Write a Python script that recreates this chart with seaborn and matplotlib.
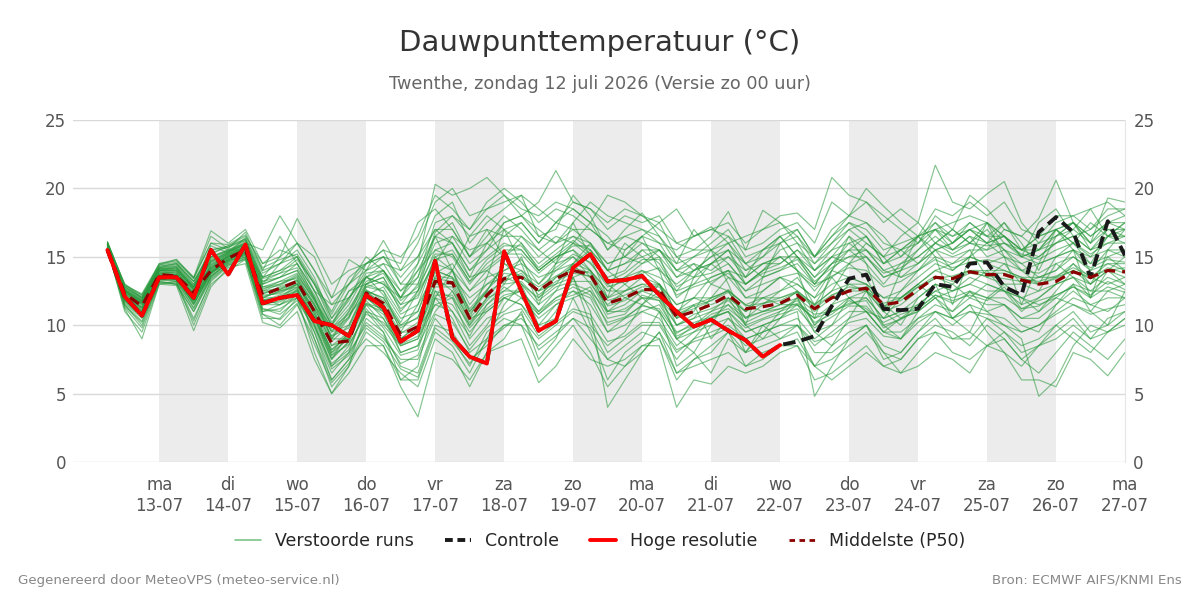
import numpy as np
import pandas as pd
import matplotlib
matplotlib.use("Agg")
import matplotlib.pyplot as plt
from matplotlib.lines import Line2D
import seaborn as sns

# ---------------- data ----------------
title = "Dauwpunttemperatuur (°C)"
subtitle = "Twenthe, zondag 12 juli 2026 (Versie zo 00 uur)"
day_names = ["ma", "di", "wo", "do", "vr", "za", "zo", "ma", "di", "wo", "do", "vr", "za", "zo", "ma"]
day_dates = ["13-07", "14-07", "15-07", "16-07", "17-07", "18-07", "19-07", "20-07",
             "21-07", "22-07", "23-07", "24-07", "25-07", "26-07", "27-07"]
shaded_days = ["13-07", "15-07", "17-07", "19-07", "21-07", "23-07", "25-07"]

# 6-hourly steps starting 12-07 06:00 (hours since 12-07 00:00)
hours = [6 + 6 * k for k in range(60)]

hres = [15.5, 12.1, 10.7, 13.5, 13.5, 12.0, 15.5, 13.7, 15.9, 11.6, 12.0, 12.2, 10.3, 10.0, 9.2,
        12.2, 11.3, 8.8, 9.6, 14.7, 9.1, 7.7, 7.2, 15.4, 12.5, 9.6, 10.3, 14.2, 15.2, 13.2,
        13.3, 13.6, 12.2, 11.0, 9.9, 10.4, 9.6, 8.9, 7.7, 8.55]

controle = [15.5, 12.1, 10.7, 13.5, 13.5, 12.0, 15.5, 13.7, 15.9, 11.6, 12.0, 12.2, 10.3, 10.0, 9.2,
            12.2, 11.3, 8.8, 9.6, 14.7, 9.1, 7.7, 7.2, 15.4, 12.5, 9.6, 10.3, 14.2, 15.2, 13.2,
            13.3, 13.6, 12.2, 11.0, 9.9, 10.4, 9.6, 8.9, 7.7, 8.55, 8.8, 9.2, 11.4, 13.4, 13.7,
            11.2, 11.1, 11.2, 13.0, 12.8, 14.5, 14.6, 12.8, 12.2, 16.8, 17.9, 16.8, 13.5, 17.6, 15.1]

p50 = [15.5, 12.3, 11.4, 13.7, 13.6, 12.4, 14.0, 14.9, 15.5, 12.2, 12.7, 13.2, 11.0, 8.7, 8.85,
       12.35, 11.6, 9.3, 9.9, 13.2, 13.1, 10.5, 12.2, 13.4, 13.5, 12.5, 13.4, 14.0, 13.7, 11.6,
       12.0, 12.6, 12.6, 10.6, 11.0, 11.5, 12.2, 11.2, 11.35, 11.6, 12.2, 11.2, 12.0, 12.5, 12.7,
       11.5, 11.7, 12.6, 13.5, 13.4, 13.9, 13.7, 13.7, 13.3, 13.0, 13.2, 13.9, 13.5, 14.0, 13.9]

m01 = [15.8,12.6,11.5,14.0,13.8,12.6,14.2,15.2,15.8,12.5,13.0,13.5,11.5,8.5,9.5,12.5,12.0,10.0,10.5,14.0,13.5,11.0,12.5,14.5,14.0,13.0,14.5,15.0,14.0,12.0,12.5,13.5,13.0,11.5,12.0,12.0,13.5,12.0,12.0,12.5,13.0,12.0,13.0,13.5,13.0,12.0,12.5,13.5,14.5,14.0,15.0,14.5,14.0,13.5,13.5,14.0,15.0,14.0,14.5,14.5]
m02 = [16.0,12.8,12.0,14.2,14.5,13.0,15.5,15.8,16.5,14.5,15.5,15.0,13.0,11.0,13.5,14.5,15.5,15.0,16.5,19.5,18.5,17.0,19.0,20.0,19.0,17.5,18.5,18.0,17.0,16.0,15.5,16.5,17.5,15.0,14.0,15.0,16.0,14.5,13.5,14.0,15.0,13.0,14.5,16.0,15.0,13.5,14.0,15.5,17.0,15.5,16.0,17.0,15.5,14.0,13.0,15.0,16.0,14.5,16.5,17.0]
m03 = [15.5,11.5,10.0,13.2,13.0,11.0,13.5,14.5,15.0,11.0,11.5,12.0,9.5,6.0,7.5,10.5,9.5,7.0,6.5,10.0,9.5,7.5,8.5,10.0,10.5,9.0,10.0,11.0,10.5,8.0,9.0,10.0,10.0,8.0,9.0,9.5,10.0,9.0,9.5,10.0,10.0,8.5,9.5,10.5,11.0,9.5,9.0,10.5,11.0,10.5,11.5,11.0,10.0,9.5,10.0,11.0,12.0,11.5,11.0,12.0]
m04 = [16.0,13.0,12.0,14.5,14.8,13.5,16.0,15.5,15.5,13.5,14.0,14.5,12.0,9.0,11.0,13.5,13.0,12.0,13.5,17.5,18.0,17.0,18.5,19.5,18.0,19.0,21.3,19.0,18.5,17.5,18.5,18.0,17.0,16.0,15.5,16.5,18.3,15.5,16.0,17.0,17.5,16.0,19.0,18.0,17.5,16.0,15.5,16.5,17.0,17.5,18.0,17.5,16.5,15.0,17.5,18.5,16.5,17.0,18.0,18.5]
m05 = [15.6,11.0,9.5,13.0,13.2,10.0,13.0,14.0,14.8,10.5,10.5,12.0,8.0,5.0,7.0,9.5,8.5,5.5,3.3,8.0,7.5,6.0,8.0,9.0,11.0,7.5,9.0,12.0,9.5,6.0,8.0,9.0,11.0,7.0,8.0,6.5,9.0,8.0,10.0,9.0,9.5,7.0,8.5,9.5,10.0,8.0,7.5,9.0,10.0,9.5,8.5,10.0,9.0,7.5,8.5,9.5,10.5,9.0,9.5,10.5]
m06 = [15.7,12.0,11.0,13.5,13.5,12.0,14.0,15.0,15.5,12.0,12.5,13.0,11.0,8.0,9.0,13.0,12.5,9.5,11.5,15.0,14.0,12.5,14.0,13.0,15.0,12.0,13.0,14.5,15.5,13.0,12.0,11.5,13.0,10.5,11.0,13.0,12.5,10.5,11.5,12.5,13.5,11.5,12.5,14.5,13.5,11.0,12.0,13.0,14.0,14.5,15.5,13.5,14.5,13.0,12.5,14.5,13.5,13.0,15.0,14.0]
m07 = [16.0,12.5,11.8,14.0,14.0,12.8,15.0,15.5,16.0,15.5,18.0,16.0,14.0,12.0,14.8,14.0,16.2,14.0,15.0,18.0,19.0,16.0,17.5,18.5,19.5,16.5,17.0,19.5,18.0,15.5,17.0,18.2,16.5,14.5,17.0,15.5,14.5,13.0,14.0,15.5,16.0,14.0,15.0,14.5,16.0,15.0,13.5,14.5,15.5,16.0,17.0,16.0,17.5,16.0,14.0,16.5,17.5,15.5,17.0,16.5]
m08 = [15.5,11.8,10.8,13.3,13.4,11.5,13.8,14.6,15.2,11.5,11.8,12.5,10.0,7.0,8.5,11.0,10.5,8.5,9.0,11.5,12.0,9.0,10.5,11.0,12.0,10.5,11.5,12.0,12.5,10.0,10.5,11.0,11.5,9.5,10.0,10.5,11.5,10.0,10.5,11.0,11.5,10.5,11.0,11.5,12.0,10.5,11.0,11.5,12.5,12.0,12.5,12.0,13.0,12.0,11.5,12.0,13.0,12.5,12.5,13.0]
m09 = [15.9,12.2,11.0,13.8,13.6,11.8,14.2,15.0,15.6,12.0,12.0,13.0,10.5,7.5,9.5,12.0,11.0,8.0,8.5,12.5,11.0,8.5,10.0,12.0,11.5,9.5,11.0,13.5,11.0,4.0,6.0,8.0,9.5,7.5,9.0,10.5,11.0,8.0,9.5,11.0,12.0,10.0,11.5,13.0,12.5,11.0,10.0,12.0,13.0,12.5,13.5,13.0,12.5,12.0,11.0,12.5,14.0,13.5,13.0,13.5]
m10 = [16.0,12.7,12.0,14.3,14.5,13.2,15.2,15.8,16.3,13.5,15.0,17.8,15.5,13.0,14.0,14.5,15.0,13.5,15.0,17.0,16.0,13.5,16.0,17.0,16.0,14.0,15.0,15.5,14.0,12.5,13.5,14.0,13.0,11.0,12.0,11.5,12.0,11.0,12.0,11.5,12.5,10.0,11.0,12.0,12.5,11.5,10.5,11.5,12.5,13.0,12.0,13.0,12.5,11.0,12.0,13.0,13.5,12.0,14.0,13.0]
m11 = [15.6,12.3,11.6,13.9,13.8,12.3,14.5,15.1,15.7,12.3,12.8,13.3,11.0,8.5,9.0,12.5,11.5,9.0,10.0,13.0,14.0,11.0,12.5,14.5,13.5,12.5,14.0,15.0,13.5,12.0,13.0,14.0,13.5,12.5,14.0,15.0,15.5,14.5,15.5,16.0,17.0,15.0,16.5,18.0,19.0,17.5,18.5,17.5,21.7,19.0,18.5,19.6,20.5,17.5,16.0,17.5,18.0,18.5,19.0,18.0]
m12 = [15.7,12.0,11.2,13.6,13.4,12.0,13.8,14.9,15.4,12.2,12.3,13.0,10.8,7.8,9.2,12.0,11.5,9.0,10.0,13.5,12.5,10.0,12.0,13.5,13.0,12.0,13.5,14.0,13.5,11.0,12.0,12.5,12.0,10.5,11.5,9.0,10.5,9.5,10.0,10.5,11.5,9.5,10.0,12.0,11.0,9.5,10.5,11.0,12.0,11.0,12.5,11.0,11.5,10.5,11.0,12.0,11.5,11.0,12.5,12.0]
m13 = [16.1,12.9,12.2,14.4,14.6,13.4,16.5,15.6,16.8,14.0,14.5,15.5,13.5,10.5,12.5,13.5,14.5,12.5,14.0,16.5,17.5,15.0,17.0,16.5,17.5,16.0,17.5,17.0,16.0,14.5,15.0,16.0,15.0,13.5,14.5,14.0,15.0,14.0,14.5,14.5,15.5,14.5,15.5,16.0,16.5,14.5,15.5,16.0,17.5,16.0,17.5,16.5,17.5,15.5,16.0,16.5,17.0,16.0,17.5,17.5]
m14 = [15.5,11.6,10.5,13.4,13.2,11.3,13.5,14.7,15.1,11.2,11.0,12.3,9.5,6.5,8.0,10.0,9.0,7.5,7.5,10.5,9.0,7.0,9.5,10.5,10.0,8.5,9.5,10.5,9.0,7.5,8.5,9.5,9.0,6.0,7.5,8.5,9.5,7.0,8.0,8.5,9.0,7.0,7.5,8.5,9.5,8.0,6.5,8.0,9.5,9.0,9.5,8.5,9.0,7.5,6.5,8.0,9.5,8.5,7.5,9.0]
m15 = [15.8,12.4,11.7,14.1,14.1,12.7,14.8,15.3,16.0,13.0,13.5,14.0,12.0,9.0,10.5,13.0,13.5,11.0,12.5,15.5,15.0,13.0,14.5,15.5,15.5,14.0,15.0,16.0,15.0,13.5,14.0,15.5,14.5,12.5,13.0,13.5,14.0,12.5,13.5,14.0,14.5,13.0,13.5,14.5,15.0,13.5,14.0,14.5,15.5,15.0,15.5,15.5,16.0,15.0,14.5,15.0,15.5,15.0,15.5,15.5]
m16 = [15.6,11.9,10.9,13.6,13.5,11.7,14.0,14.8,15.3,11.8,12.0,12.8,9.0,5.5,7.0,11.0,9.5,6.0,7.0,12.0,14.0,16.5,17.0,15.0,13.0,11.5,12.5,14.5,16.0,14.0,13.0,12.0,11.0,9.0,10.0,11.0,12.0,11.0,12.5,13.5,12.5,11.5,13.5,12.0,11.0,10.5,12.0,13.0,12.0,12.5,13.0,14.0,12.5,11.5,12.0,13.0,14.5,13.0,14.0,15.0]
m17 = [15.7,12.1,11.3,13.7,13.7,12.2,14.1,15.0,15.5,12.0,12.5,12.8,11.2,9.0,9.0,12.0,11.0,9.5,9.5,13.0,13.0,10.5,12.0,12.5,13.5,12.5,13.0,13.5,14.0,11.0,11.5,12.5,13.0,10.0,10.5,12.0,12.5,11.5,11.0,11.5,12.0,11.0,12.0,12.5,12.5,11.0,11.5,12.5,13.5,13.0,14.0,13.5,13.0,13.0,13.5,13.5,14.0,13.0,14.0,13.5]
m18 = [15.9,12.6,11.9,14.0,14.2,12.9,15.0,15.4,15.9,13.0,13.5,14.5,12.5,10.0,12.0,13.5,13.0,11.5,13.0,16.0,16.5,14.5,15.5,17.5,18.0,17.0,16.0,17.5,19.0,18.0,17.5,17.0,16.0,14.0,13.5,14.5,15.5,13.0,14.0,15.0,14.0,12.5,14.0,15.5,14.5,13.0,14.5,15.0,16.0,15.5,16.5,15.0,15.5,14.5,15.0,16.0,16.5,15.5,16.0,16.5]
m19 = [15.6,11.7,10.6,13.5,13.3,11.5,13.9,14.7,15.2,11.5,11.5,12.2,10.0,7.0,8.0,11.5,10.0,8.5,9.0,12.0,11.5,9.5,11.0,12.0,12.5,11.0,12.0,12.5,11.5,9.5,10.5,11.5,11.0,9.0,9.5,10.5,11.0,9.5,10.0,10.5,11.0,4.8,7.0,9.0,10.0,8.5,8.0,9.5,11.0,10.0,11.0,10.5,10.0,9.0,4.8,6.0,8.5,10.0,9.5,10.5]
m20 = [15.8,12.3,11.5,13.8,13.9,12.5,14.3,15.1,15.6,12.5,12.7,13.2,11.5,9.5,10.0,12.5,12.0,10.0,11.0,14.0,13.5,12.0,13.0,13.5,14.0,12.5,13.5,14.5,14.0,12.5,12.5,13.0,12.5,11.0,11.5,12.0,12.5,11.5,12.0,12.0,12.5,11.5,12.5,13.0,13.0,12.0,12.0,13.0,14.0,13.5,14.0,14.0,14.0,13.5,13.0,13.5,14.5,13.5,14.5,14.0]
m21 = [16.0,12.8,12.1,14.2,14.4,13.2,15.3,15.7,16.2,13.5,14.0,15.0,12.5,10.0,12.5,13.0,14.0,12.0,14.5,20.3,19.5,20.0,20.8,19.5,18.5,18.0,19.0,18.5,17.5,19.5,19.0,18.0,17.5,18.5,16.5,17.2,16.0,16.5,17.0,18.0,18.2,17.0,20.8,19.5,19.0,18.0,17.0,16.0,18.0,17.0,19.5,18.5,17.0,16.5,17.8,20.6,17.5,16.0,19.3,19.0]
m22 = [15.5,11.4,10.2,13.1,13.1,10.5,13.2,14.3,14.9,10.8,10.0,11.5,9.0,6.0,7.5,9.0,8.0,6.5,5.5,9.0,8.0,5.5,8.0,8.5,9.0,5.8,7.0,9.0,7.5,7.0,7.5,8.5,8.5,4.0,6.0,5.7,7.0,6.5,7.0,8.0,8.5,7.0,6.0,7.0,8.0,7.0,7.5,9.0,9.5,8.0,7.5,8.5,9.5,8.0,8.5,9.0,10.0,9.0,10.5,11.0]
m23 = [15.9,12.5,11.6,14.1,14.3,12.8,15.8,15.3,16.4,14.0,16.5,14.5,12.5,11.5,13.0,14.5,15.0,14.5,17.5,18.5,17.0,15.0,16.5,18.0,17.0,15.5,16.5,16.0,15.5,14.0,16.0,15.0,15.5,14.5,15.0,16.0,17.0,15.0,15.5,16.5,15.0,14.0,15.5,17.0,16.0,15.0,16.5,17.5,16.0,17.0,16.0,17.5,16.5,15.5,16.5,17.0,16.0,17.5,16.5,17.5]
m24 = [15.6,12.0,11.1,13.5,13.5,11.9,13.7,14.8,15.3,11.8,12.2,12.7,10.5,8.0,9.5,11.5,11.0,9.0,9.5,12.5,12.0,10.0,11.5,12.5,12.5,11.0,12.5,13.0,12.5,11.0,11.0,12.0,12.0,10.0,10.5,11.0,11.5,10.5,11.0,11.5,11.5,10.5,11.5,12.0,12.0,10.5,11.0,12.0,13.0,12.5,13.0,12.5,12.5,12.0,12.5,13.0,13.5,12.5,13.5,13.0]
m25 = [15.7,12.2,11.3,13.7,13.6,12.1,14.4,15.0,15.5,12.3,12.6,13.1,11.2,8.8,10.0,12.8,12.5,10.5,11.0,14.5,14.0,11.5,13.0,14.0,14.5,13.5,14.0,14.5,13.0,11.5,12.5,13.0,13.0,11.5,12.0,13.5,14.0,12.0,12.5,13.5,13.0,12.0,14.0,13.5,13.0,11.0,12.5,14.0,15.5,14.0,15.0,16.0,15.0,14.5,13.5,14.0,15.5,14.5,15.0,15.5]
m26 = [16.1,12.9,12.3,14.5,14.7,13.5,16.9,16.0,17.0,14.5,15.0,16.0,15.0,12.0,13.0,15.0,14.0,12.0,14.0,15.5,16.0,14.0,15.0,16.0,15.5,14.0,15.0,15.5,14.5,13.0,13.5,14.5,15.0,12.0,13.0,14.5,15.5,13.5,14.5,15.0,14.0,13.0,14.5,15.0,15.5,14.0,13.5,14.0,15.0,14.5,15.0,14.5,15.0,14.0,14.5,15.0,15.5,14.0,15.5,15.0]
m27 = [15.5,11.2,9.0,13.0,12.9,9.6,12.8,14.2,14.5,10.2,9.8,11.0,7.5,5.0,6.5,8.5,8.5,6.0,6.0,9.5,8.5,6.5,9.0,10.0,10.0,7.0,8.5,10.0,8.0,5.5,7.0,8.5,9.0,6.5,7.0,7.5,8.0,7.0,7.5,8.5,8.5,6.0,6.5,7.5,8.5,7.0,6.5,7.0,8.0,7.5,6.5,8.5,8.0,6.0,6.0,5.5,8.0,7.5,6.3,8.0]
m28 = [15.8,12.4,11.7,14.0,14.0,12.6,14.6,15.2,15.8,12.8,13.2,13.8,11.8,9.5,11.0,13.0,13.5,11.5,12.0,15.0,15.5,13.5,14.0,15.0,16.0,14.5,15.5,16.5,16.0,14.0,14.5,15.0,14.0,13.0,14.0,14.5,13.5,13.0,14.0,14.5,15.5,14.0,15.0,15.5,16.5,15.0,15.5,16.5,17.0,16.0,17.0,16.5,15.5,15.0,15.5,16.5,17.5,16.5,17.5,17.0]
m29 = [15.6,11.9,10.7,13.4,13.3,11.6,13.6,14.6,15.1,11.6,11.7,12.4,10.2,7.5,8.8,11.8,10.5,8.0,8.5,11.0,12.5,10.5,11.0,12.0,11.5,10.0,11.5,12.5,12.0,9.5,10.0,11.0,10.5,8.5,9.5,10.0,10.5,9.0,9.5,10.0,10.5,9.0,10.0,11.0,11.0,9.5,9.5,10.5,11.5,11.0,12.0,11.5,11.5,10.5,10.5,11.5,12.5,11.5,12.0,12.0]
m30 = [15.9,12.7,11.9,14.2,14.3,13.0,15.0,15.5,16.2,13.2,13.8,14.2,12.2,10.0,11.5,13.8,14.0,12.5,13.5,16.5,16.0,14.0,15.5,16.5,16.5,15.0,16.0,16.5,15.5,14.0,14.5,15.5,15.5,13.5,14.0,14.5,15.0,13.5,14.5,15.0,15.0,13.5,14.5,15.5,15.5,14.0,14.5,15.5,16.5,15.5,16.5,16.0,16.5,15.5,15.0,16.0,16.5,15.5,16.5,16.5]
m31 = [15.7,12.3,11.4,13.9,13.7,12.3,14.2,15.1,15.7,12.7,12.9,13.6,11.8,9.8,10.8,12.2,12.8,10.8,11.5,13.8,14.5,12.5,13.5,14.0,14.8,13.0,14.2,15.2,14.6,12.8,13.2,13.8,14.2,12.2,12.8,13.2,13.8,12.5,13.0,13.5,13.8,12.8,13.6,14.2,14.0,12.8,13.2,14.0,14.8,14.2,14.6,14.8,14.5,14.0,13.8,14.5,15.0,14.2,14.8,14.6]
m32 = [15.6,11.8,10.6,13.3,13.2,11.2,13.6,14.5,15.0,11.0,11.2,12.0,10.0,7.2,8.2,11.2,9.8,7.8,8.2,12.0,10.5,8.0,9.0,11.5,13.0,10.0,10.5,13.5,10.0,8.5,9.5,11.5,12.5,9.0,8.0,10.0,12.0,10.0,9.0,10.5,12.0,9.5,8.5,10.5,12.5,10.0,9.0,11.0,13.0,10.5,9.5,12.0,11.5,10.0,9.5,11.5,13.0,11.0,10.0,12.5]
m33 = [15.8,12.5,11.8,14.0,14.1,12.8,14.6,15.4,16.0,13.4,13.8,14.8,13.0,10.2,11.8,14.5,15.5,13.0,13.0,16.8,18.0,16.5,18.0,17.0,17.5,16.0,17.5,18.5,17.5,15.5,16.5,17.0,16.5,15.0,15.5,15.5,16.5,14.5,15.0,16.0,16.5,14.5,16.0,17.5,17.0,15.5,16.0,16.5,17.5,16.5,17.0,17.5,16.0,15.5,16.5,17.0,17.5,16.5,17.5,18.0]
m34 = [15.7,12.1,11.2,13.6,13.6,12.1,13.9,14.9,15.4,12.1,12.4,13.0,10.8,8.2,9.4,12.4,11.6,9.4,10.2,13.4,13.2,10.8,12.4,13.2,13.8,12.2,13.2,13.8,13.6,11.4,11.8,12.6,12.4,10.8,11.2,11.8,12.4,11.0,11.6,11.8,12.4,11.2,12.2,12.8,12.6,11.4,11.8,12.8,13.6,13.2,13.8,13.6,13.4,13.2,13.0,13.4,14.0,13.4,14.2,13.8]
m35 = [16.0,13.0,12.2,14.4,14.8,13.4,16.0,15.9,16.6,14.2,14.8,15.2,13.2,10.8,13.0,14.0,14.5,14.0,16.0,19.0,20.0,18.0,18.5,19.0,19.5,18.5,17.5,19.0,18.5,17.0,18.0,17.5,18.0,16.0,16.5,17.0,17.5,16.0,17.0,17.5,16.5,15.0,17.0,18.0,20.0,18.7,17.5,16.5,18.5,18.0,19.0,18.0,19.0,17.0,16.5,18.0,18.0,17.0,18.5,18.5]
m36 = [15.5,11.5,10.3,13.2,13.0,11.0,13.4,14.4,14.9,11.2,10.8,11.8,9.8,6.8,7.8,10.2,9.2,7.2,7.8,10.8,10.2,8.2,9.8,10.8,11.2,9.2,10.2,11.2,10.8,8.8,9.2,10.2,10.2,8.2,8.8,9.2,9.8,8.5,9.0,9.5,10.0,8.8,9.2,10.2,10.5,9.2,9.0,10.2,11.0,10.5,11.0,10.8,10.5,9.5,10.0,10.8,11.5,10.8,11.2,11.5]
m37 = [15.8,12.4,11.6,14.0,13.9,12.4,14.4,15.3,15.9,13.0,14.5,16.0,14.0,11.5,12.0,13.5,14.0,12.0,12.5,14.5,16.5,15.5,16.0,15.0,16.5,15.5,14.5,16.0,17.5,16.5,15.0,14.5,15.5,14.0,14.5,13.0,14.0,13.5,15.5,16.5,15.0,13.5,15.0,16.5,15.5,14.5,15.5,14.5,16.0,17.0,16.0,15.5,17.0,16.5,15.5,16.0,17.0,18.5,16.5,17.5]
m38 = [15.6,11.8,10.8,13.4,13.4,11.6,13.8,14.7,15.2,11.9,11.5,12.6,10.5,7.8,8.6,10.8,10.2,8.8,9.8,11.5,11.0,9.2,11.5,12.8,12.0,10.8,11.8,12.2,12.8,10.5,10.8,12.2,11.8,9.2,9.8,10.8,11.2,10.2,10.8,11.2,11.8,10.2,10.8,11.8,11.2,10.2,10.8,11.2,12.2,11.8,12.2,11.8,12.8,11.2,11.8,12.2,12.8,12.2,13.2,12.6]
m39 = [15.9,12.6,11.8,14.1,14.2,12.6,14.7,15.2,15.7,12.6,13.2,13.4,11.6,9.2,10.6,13.6,12.2,10.2,12.5,16.5,14.0,10.5,13.5,17.0,14.5,11.5,14.5,17.5,15.0,12.0,15.5,16.5,14.0,10.5,13.5,15.5,13.0,10.0,13.5,16.0,14.0,10.5,14.0,16.5,14.5,11.0,14.0,16.5,15.0,11.5,15.0,17.5,15.0,11.5,14.5,17.0,15.5,12.0,15.5,17.0]
m40 = [15.5,11.3,9.8,13.1,13.0,10.3,13.3,14.4,14.8,10.8,10.4,11.6,8.6,5.8,7.2,9.8,8.8,6.8,6.2,9.8,8.8,7.2,8.8,9.8,10.8,8.2,9.2,10.5,9.8,7.5,7.0,8.0,9.5,6.5,7.5,8.0,9.5,8.0,8.5,9.0,10.0,8.0,8.0,9.0,10.0,7.5,8.0,9.5,10.5,9.0,9.0,10.5,9.5,8.5,9.0,10.0,11.0,9.5,10.0,11.0]
m41 = [15.7,12.2,11.3,13.8,13.7,12.3,14.1,15.0,15.6,12.4,12.6,13.3,11.4,9.2,9.8,12.6,11.8,9.8,10.6,13.6,13.4,11.2,12.6,13.8,13.6,12.8,13.6,14.2,13.8,11.8,12.2,12.8,12.8,10.8,11.4,11.8,12.6,11.4,11.6,12.0,12.4,11.4,12.2,12.6,12.8,11.6,12.0,12.8,13.4,13.6,14.0,13.8,13.8,13.4,13.2,13.6,14.2,13.6,14.0,14.2]
m42 = [15.8,12.5,11.7,14.0,14.0,12.7,14.7,15.3,15.9,12.8,13.0,13.7,11.9,9.6,10.6,12.8,13.2,11.2,12.2,14.8,15.2,13.2,14.2,15.2,15.2,13.8,14.8,15.8,15.8,14.5,15.0,16.5,16.0,15.5,16.5,17.0,16.5,15.5,18.4,17.5,16.0,15.0,16.0,17.0,17.5,16.5,15.0,16.5,15.5,16.0,17.0,16.0,16.5,15.0,15.5,17.0,16.0,15.0,16.5,16.0]
m43 = [15.6,11.9,10.8,13.5,13.4,11.8,13.9,14.8,15.3,11.8,12.0,12.6,10.6,8.2,9.2,11.6,11.2,8.8,9.6,12.8,12.8,10.2,11.8,13.0,13.2,11.8,12.8,13.2,13.2,10.8,11.2,12.0,11.8,10.0,10.8,11.2,11.8,10.6,11.0,11.2,11.6,10.8,11.0,11.6,11.8,9.8,10.5,11.0,12.0,10.5,11.5,9.5,8.0,7.0,8.5,10.0,9.0,8.0,9.5,10.0]
m44 = [15.9,12.6,11.8,14.1,14.2,12.8,14.9,15.4,16.1,13.2,13.5,14.0,12.0,9.8,11.2,13.2,13.8,11.8,12.8,15.2,15.2,13.2,14.8,15.8,15.8,14.2,15.2,16.2,15.2,13.2,13.8,14.8,14.8,12.8,13.5,13.8,14.5,13.0,13.8,14.2,14.8,13.2,14.2,15.0,15.0,13.8,14.2,15.0,16.0,15.2,16.0,15.8,16.0,15.2,14.8,15.5,16.0,15.2,16.0,16.0]
m45 = [15.6,12.0,11.0,13.5,13.5,11.8,13.8,14.8,15.3,11.7,12.0,12.5,10.6,7.6,8.8,11.6,10.8,8.6,9.2,12.2,12.2,9.8,11.2,12.2,12.5,10.8,12.0,12.8,12.2,10.2,10.6,11.4,11.2,9.4,10.2,10.6,11.0,9.8,10.4,10.8,11.2,9.8,10.6,11.4,11.4,10.0,10.4,11.2,12.2,11.6,12.4,12.0,12.0,11.2,11.4,12.2,12.8,12.0,12.8,12.4]
m46 = [16.0,12.8,12.0,14.3,14.5,13.2,15.5,15.7,16.3,13.8,14.5,15.0,13.0,10.5,12.0,14.0,15.0,13.0,14.5,17.0,17.0,15.0,16.0,17.5,18.0,16.5,16.0,17.0,17.0,16.0,16.5,16.0,15.5,14.0,15.0,15.5,16.0,14.0,15.0,16.5,17.0,15.0,16.5,17.5,16.5,14.5,15.0,16.0,17.0,16.5,17.5,16.5,16.5,15.5,15.5,17.0,17.5,16.0,17.0,17.0]

members = [m01, m02, m03, m04, m05, m06, m07, m08, m09, m10, m11, m12, m13, m14, m15, m16, m17, m18,
           m19, m20, m21, m22, m23, m24, m25, m26, m27, m28, m29, m30, m31, m32, m33, m34, m35, m36,
           m37, m38, m39, m40, m41, m42, m43, m44, m45, m46]

legend_labels = ["Verstoorde runs", "Controle", "Hoge resolutie", "Middelste (P50)"]
footer_left = "Gegenereerd door MeteoVPS (meteo-service.nl)"
footer_right = "Bron: ECMWF AIFS/KNMI Ens"

# ---------------- figure ----------------
sns.set_style("white")
plt.rcParams["font.family"] = ["DejaVu Sans"]

fig = plt.figure(figsize=(12, 6), dpi=100)
ax = fig.add_axes([0.0608, 0.23, 0.8767, 0.57])

days_x = [h / 24 for h in hours]
ens_df = pd.DataFrame({
    "t": np.tile(days_x, len(members)),
    "v": np.concatenate([np.asarray(m, float) for m in members]),
    "member": np.repeat(np.arange(len(members)), len(days_x)),
})

# shaded alternate days
for d in shaded_days:
    k = day_dates.index(d) + 1
    ax.axvspan(k, k + 1, color="#ececec", lw=0, zorder=0)

for y in range(0, 26, 5):
    ax.axhline(y, color="#d9d9d9", lw=1, zorder=0.5)

sns.lineplot(data=ens_df, x="t", y="v", units="member", estimator=None, ax=ax,
             color="#2a9a3e", alpha=0.58, lw=0.85, legend=False, zorder=2)

sns.lineplot(x=days_x[:len(controle)], y=controle, ax=ax, color="#1a1a1a", lw=2.8,
             linestyle=(0, (3.2, 1.6)), legend=False, zorder=3)
sns.lineplot(x=days_x[:len(p50)], y=p50, ax=ax, color="#8b0000", lw=2.3,
             linestyle=(0, (3.4, 2.2)), legend=False, zorder=4)
sns.lineplot(x=days_x[:len(hres)], y=hres, ax=ax, color="#ff0000", lw=2.8,
             legend=False, zorder=5)

ax.set_xlim(-0.25, 15)
ax.set_ylim(0, 25)
ax.set_xlabel("")
ax.set_ylabel("")
ax.set_yticks(range(0, 26, 5))
ax.set_xticks(range(1, 16))
ax.set_xticklabels([f"{n}\n{d}" for n, d in zip(day_names, day_dates)])
ax.tick_params(axis="x", length=6, width=1.5, color="#666666", labelsize=12,
               labelcolor="#555555", pad=4, direction="out")
ax.tick_params(axis="y", length=0, labelsize=12, labelcolor="#555555", pad=5)
for s in ["top", "left", "bottom"]:
    ax.spines[s].set_visible(False)
ax.spines["right"].set_color("#e6e6e6")
ax.grid(False)

ax2 = ax.twinx()
ax2.set_ylim(0, 25)
ax2.set_yticks(range(0, 26, 5))
ax2.tick_params(axis="y", length=0, labelsize=12, labelcolor="#555555", pad=6)
for s in ax2.spines.values():
    s.set_visible(False)

fig.text(0.5, 0.928, title, ha="center", va="center", fontsize=21, color="#333333")
fig.text(0.5, 0.860, subtitle, ha="center", va="center", fontsize=12.7, color="#666666")

handles = [
    Line2D([], [], color="#7cc48a", lw=1.2),
    Line2D([], [], color="#1a1a1a", lw=2.8, linestyle=(0, (2, 1.2))),
    Line2D([], [], color="#ff0000", lw=2.8),
    Line2D([], [], color="#8b0000", lw=2.0, linestyle=(0, (2, 1.6))),
]
fig.legend(handles, legend_labels, loc="center", bbox_to_anchor=(0.5, 0.098), ncol=4,
           frameon=False, fontsize=12.5, handlelength=1.5, columnspacing=1.8, handletextpad=0.8)

fig.text(0.015, 0.033, footer_left, ha="left", va="center", fontsize=9.6, color="#888888")
fig.text(0.985, 0.033, footer_right, ha="right", va="center", fontsize=9.6, color="#888888")

fig.savefig("out.png", dpi=100)
